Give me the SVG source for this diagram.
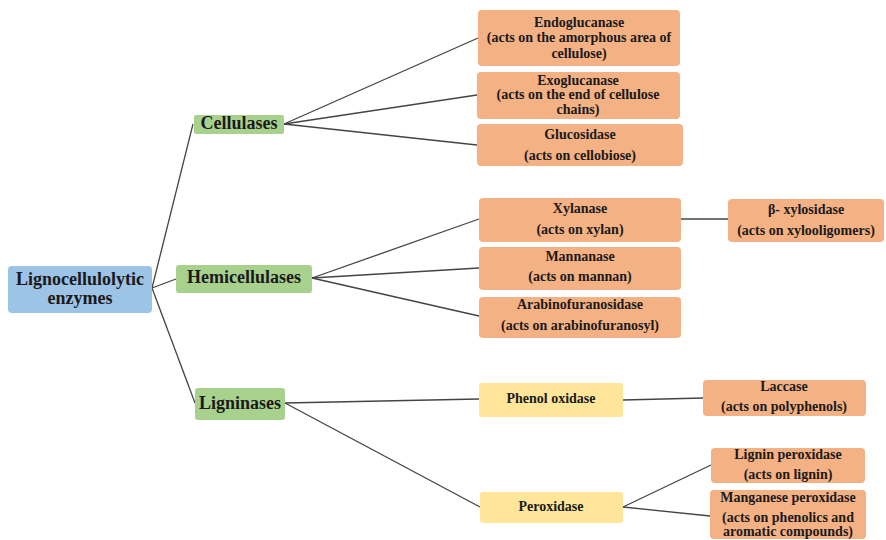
<svg xmlns="http://www.w3.org/2000/svg" width="886" height="540" viewBox="0 0 886 540" font-family="'Liberation Serif', 'DejaVu Serif', serif">
<style>
text{font-family:'Liberation Serif','DejaVu Serif',serif;font-weight:700;fill:#1a1a1a;text-anchor:middle}
.t{font-size:14px}
.m{font-size:18px}
.r{font-size:18px}
.o{fill:#f4b183}
.g{fill:#a9d18e}
.b{fill:#9dc3e6}
.y{fill:#ffe699}
#connectors line{stroke:#444;stroke-width:1.3}
</style>
<rect width="886" height="540" fill="#fff"/>
<g id="connectors">
<line x1="152" y1="288" x2="193" y2="124"/>
<line x1="152" y1="288" x2="176" y2="279"/>
<line x1="152" y1="288" x2="195" y2="403"/>
<line x1="284" y1="124" x2="478" y2="38"/>
<line x1="284" y1="124" x2="477" y2="95"/>
<line x1="284" y1="124" x2="477" y2="145"/>
<line x1="312" y1="278" x2="479" y2="219"/>
<line x1="312" y1="278" x2="479" y2="268"/>
<line x1="312" y1="278" x2="479" y2="316"/>
<line x1="681" y1="219" x2="728" y2="219"/>
<line x1="285" y1="403" x2="479" y2="399"/>
<line x1="285" y1="403" x2="480" y2="507"/>
<line x1="623" y1="400" x2="703" y2="398"/>
<line x1="623" y1="507" x2="711" y2="465"/>
<line x1="623" y1="507" x2="710" y2="516"/>
</g>
<g id="root"><rect class="b" x="8" y="266" width="144" height="47" rx="4"/><text class="r" x="80" y="285">Lignocellulolytic</text><text class="r" x="80" y="304">enzymes</text></g>
<g id="cellulases"><rect class="g" x="194" y="115" width="90" height="19" rx="2"/><text class="m" x="239" y="129">Cellulases</text></g>
<g id="hemicellulases"><rect class="g" x="176" y="265" width="136" height="28" rx="3"/><text class="m" x="244" y="283">Hemicellulases</text></g>
<g id="ligninases"><rect class="g" x="195" y="388" width="90" height="32" rx="3"/><text class="m" x="240" y="409">Ligninases</text></g>
<g id="endoglucanase"><rect class="o" x="478" y="10" width="202" height="56" rx="4"/><text class="t" x="579" y="27">Endoglucanase</text><text class="t" x="579" y="42">(acts on the amorphous area of</text><text class="t" x="579" y="58">cellulose)</text></g>
<g id="exoglucanase"><rect class="o" x="477" y="72" width="203" height="47" rx="4"/><text class="t" x="578" y="85">Exoglucanase</text><text class="t" x="578" y="99">(acts on the end of cellulose</text><text class="t" x="578" y="114">chains)</text></g>
<g id="glucosidase"><rect class="o" x="477" y="124" width="206" height="42" rx="4"/><text class="t" x="580" y="139">Glucosidase</text><text class="t" x="580" y="160">(acts on cellobiose)</text></g>
<g id="xylanase"><rect class="o" x="479" y="198" width="202" height="44" rx="4"/><text class="t" x="580" y="213">Xylanase</text><text class="t" x="580" y="234">(acts on xylan)</text></g>
<g id="xylosidase"><rect class="o" x="728" y="199" width="156" height="43" rx="4"/><text class="t" x="806" y="214">β- xylosidase</text><text class="t" x="806" y="235">(acts on xylooligomers)</text></g>
<g id="mannanase"><rect class="o" x="479" y="247" width="202" height="43" rx="4"/><text class="t" x="580" y="261">Mannanase</text><text class="t" x="580" y="281">(acts on mannan)</text></g>
<g id="arabinofuranosidase"><rect class="o" x="479" y="297" width="202" height="41" rx="4"/><text class="t" x="580" y="309">Arabinofuranosidase</text><text class="t" x="580" y="330">(acts on arabinofuranosyl)</text></g>
<g id="phenol-oxidase"><rect class="y" x="479" y="383" width="144" height="34" rx="3"/><text class="t" x="551" y="403">Phenol oxidase</text></g>
<g id="laccase"><rect class="o" x="703" y="380" width="163" height="36" rx="4"/><text class="t" x="784" y="391">Laccase</text><text class="t" x="784" y="411">(acts on polyphenols)</text></g>
<g id="peroxidase"><rect class="y" x="480" y="492" width="143" height="31" rx="3"/><text class="t" x="551" y="511">Peroxidase</text></g>
<g id="lignin-peroxidase"><rect class="o" x="711" y="448" width="154" height="35" rx="4"/><text class="t" x="788" y="459">Lignin peroxidase</text><text class="t" x="788" y="479">(acts on lignin)</text></g>
<g id="manganese-peroxidase"><rect class="o" x="710" y="490" width="156" height="49" rx="4"/><text class="t" x="788" y="502">Manganese peroxidase</text><text class="t" x="788" y="522">(acts on phenolics and</text><text class="t" x="788" y="536">aromatic compounds)</text></g>
</svg>
